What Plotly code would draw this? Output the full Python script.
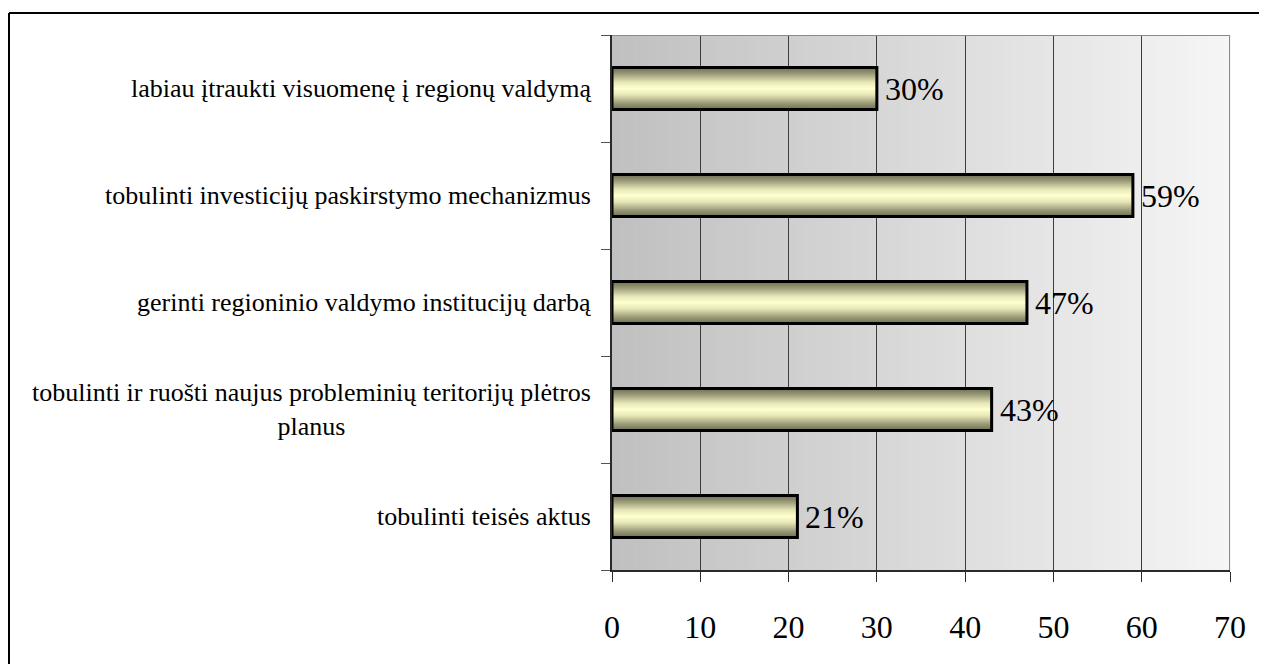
import plotly.graph_objects as go

# Survey answers, listed top to bottom
categories = [
    "labiau įtraukti visuomenę į regionų valdymą",
    "tobulinti investicijų paskirstymo mechanizmus",
    "gerinti regioninio valdymo institucijų darbą",
    "tobulinti ir ruošti naujus probleminių teritorijų plėtros<br>planus",
    "tobulinti teisės aktus",
]
values = [30, 59, 47, 43, 21]
x_ticks = [0, 10, 20, 30, 40, 50, 60, 70]

W, H = 1261, 666
L, R, T, B = 612, 31, 35, 96
plot_w = W - L - R
plot_h = H - T - B

FONT = "Liberation Serif"
n = len(categories)
centers = [n - 0.5 - i for i in range(n)]
half = 0.196
x_max = x_ticks[-1]

fig = go.Figure()

# Grey border along the top and right of the plot area
fig.add_trace(go.Scatter(
    x=[0, x_max, x_max], y=[n, n, 0], mode="lines",
    line=dict(color="#8a8a8a", width=2),
    hoverinfo="skip", showlegend=False,
))

# Bars as filled outlines with a cylinder-like vertical gradient
bar_scale = [
    [0.0, "#6f6f52"], [0.15, "#9a9a78"], [0.35, "#e6e6b8"],
    [0.5, "#ffffcf"], [0.65, "#e6e6b8"], [0.85, "#9a9a78"], [1.0, "#6f6f52"],
]
for c, v in zip(centers, values):
    fig.add_trace(go.Scatter(
        x=[0, v, v, 0, 0],
        y=[c - half, c - half, c + half, c + half, c - half],
        mode="lines", fill="toself",
        fillgradient=dict(type="vertical", colorscale=bar_scale),
        line=dict(color="#000000", width=3),
        hoverinfo="skip", showlegend=False,
    ))

shapes = []
# Plot background: horizontal grey gradient drawn below gridlines
steps = 90
c0, c1 = 192, 245
for k in range(steps):
    g = round(c0 + (c1 - c0) * k / (steps - 1))
    shapes.append(dict(
        type="rect", xref="x domain", yref="y domain", layer="below",
        x0=k / steps, x1=(k + 1) / steps + 0.002, y0=0, y1=1,
        fillcolor=f"rgb({g},{g},{g})", line=dict(width=0),
    ))
# Outer frame: left and top edges as separate lines
frame_x0 = (9 - L) / plot_w
frame_y1 = (T + plot_h - 13) / plot_h
frame_y0 = -(H - 2 - (T + plot_h)) / plot_h
frame_x1 = (W - 2 - L) / plot_w
shapes.append(dict(
    type="line", xref="paper", yref="paper", layer="above",
    x0=frame_x0, x1=frame_x0, y0=frame_y0, y1=frame_y1,
    line=dict(color="#000000", width=2),
))
shapes.append(dict(
    type="line", xref="paper", yref="paper", layer="above",
    x0=frame_x0, x1=frame_x1, y0=frame_y1, y1=frame_y1,
    line=dict(color="#000000", width=2),
))

annotations = []
for c, label in zip(centers, categories):
    annotations.append(dict(
        x=0, xref="paper", y=c, yref="y", xanchor="right", yanchor="middle",
        xshift=-19, text=label, showarrow=False, align="center",
        font=dict(family=FONT, size=26, color="#000000"),
    ))
# Value labels to the right of each bar
for c, v in zip(centers, values):
    annotations.append(dict(
        x=v, xref="x", y=c, yref="y", xanchor="left", yanchor="middle",
        xshift=6, text=f"{v}%", showarrow=False,
        font=dict(family=FONT, size=32, color="#000000"),
    ))

fig.update_layout(
    width=W, height=H,
    margin=dict(l=L, r=R, t=T, b=B, pad=0),
    paper_bgcolor="#ffffff", plot_bgcolor="#c0c0c0",
    shapes=shapes, annotations=annotations,
    showlegend=False,
    font=dict(family=FONT, color="#000000"),
    xaxis=dict(
        range=[0, x_max], tickvals=x_ticks, ticktext=[str(t) for t in x_ticks],
        showgrid=True, gridcolor="#3c3c3c", gridwidth=1,
        zeroline=False, showline=True, linecolor="#2a2a2a", linewidth=2,
        ticks="outside", ticklen=10, tickcolor="#2a2a2a", tickwidth=1,
        ticklabelstandoff=18,
        tickfont=dict(family=FONT, size=32, color="#000000"),
        fixedrange=True,
    ),
    yaxis=dict(
        range=[0, n], tickvals=list(range(n + 1)), showticklabels=False,
        showgrid=False, zeroline=False,
        showline=True, linecolor="#2a2a2a", linewidth=2,
        ticks="outside", ticklen=9, tickcolor="#555555", tickwidth=1,
        fixedrange=True,
    ),
)

fig.write_html("out.html")
